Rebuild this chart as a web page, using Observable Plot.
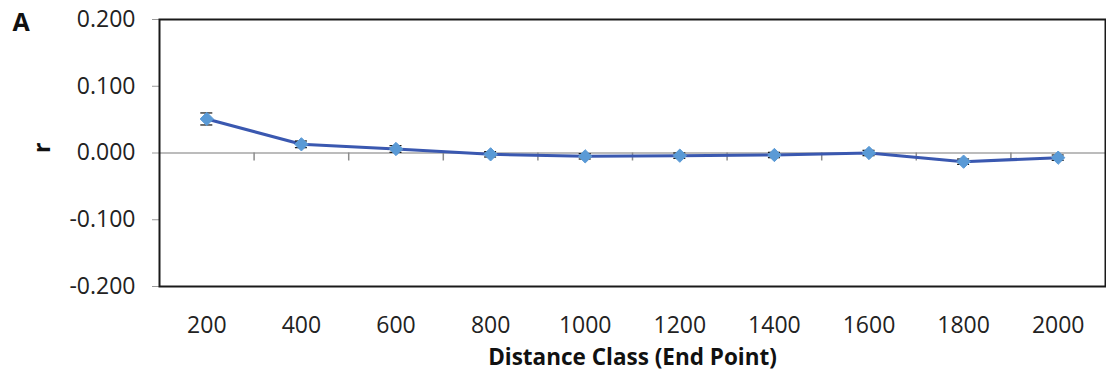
<!DOCTYPE html>
<html>
<head>
<meta charset="utf-8">
<script src="https://cdn.jsdelivr.net/npm/d3@7"></script>
<script src="https://cdn.jsdelivr.net/npm/@observablehq/plot@0.6"></script>
<style>
  html, body { margin: 0; padding: 0; background: #fff; }
</style>
</head>
<body>
<div id="chart"></div>
<script>
const categories = ["200", "400", "600", "800", "1000", "1200", "1400", "1600", "1800", "2000"];
const rValues = [0.051, 0.013, 0.006, -0.002, -0.005, -0.004, -0.003, 0.000, -0.013, -0.007];
const rErrors = [0.009, 0.005, 0.005, 0.004, 0.004, 0.004, 0.004, 0.004, 0.004, 0.004];
const yTicks = [-0.2, -0.1, 0, 0.1, 0.2];

const data = categories.map((c, i) => ({
  idx: i + 1, label: c, r: rValues[i], lo: rValues[i] - rErrors[i], hi: rValues[i] + rErrors[i]
}));
const boundaries = categories.slice(1).map((c, i) => ({ b: i + 1.5 }));
const fmt = v => (v < 0 ? "-" : "") + Math.abs(v).toFixed(3);

const chart = Plot.plot({
  width: 1106,
  height: 379,
  marginLeft: 159,
  marginRight: 1,
  marginTop: 19,
  marginBottom: 93,
  style: { fontFamily: "'Open Sans', sans-serif", fontSize: "22px", color: "#222", background: "#fff" },
  x: { domain: [0.5, categories.length + 0.5] },
  y: { domain: [-0.2, 0.2] },
  marks: [
    Plot.axisY({ ticks: yTicks, tickFormat: fmt, tickSize: 7, tickPadding: 17, stroke: "#999", fill: "#222", label: null, fontSize: 23 }),
    Plot.axisX({ ticks: data.map(d => d.idx), tickFormat: i => categories[i - 1], tickSize: 0, tickPadding: 30, label: null, fontSize: 23, fill: "#222" }),
    Plot.ruleY([0], { stroke: "#a6a6a6", strokeWidth: 1.5 }),
    Plot.ruleX(boundaries, { x: "b", y1: 0, y2: 0, insetBottom: -8, stroke: "#8c8c8c", strokeWidth: 1.5 }),
    Plot.frame({ stroke: "#1a1a1a", strokeWidth: 2 }),
    Plot.line(data, { x: "idx", y: "r", stroke: "#3a58b0", strokeWidth: 3 }),
    Plot.ruleX(data, { x: "idx", y1: "lo", y2: "hi", stroke: "#111", strokeWidth: 1.2 }),
    Plot.ruleY(data, { x1: "idx", x2: "idx", y: "hi", insetLeft: -6, insetRight: -6, stroke: "#111", strokeWidth: 1.2 }),
    Plot.ruleY(data, { x1: "idx", x2: "idx", y: "lo", insetLeft: -6, insetRight: -6, stroke: "#111", strokeWidth: 1.2 }),
    Plot.dot(data, { x: "idx", y: "r", symbol: "diamond2", r: 6, fill: "#5a9ad6", stroke: "#5a9ad6", strokeWidth: 1 }),
    Plot.text(["r"], { frameAnchor: "left", dx: -117, rotate: -90, fontWeight: "bold", fontSize: 23, fill: "#111" }),
    Plot.text(["A"], { frameAnchor: "top-left", lineAnchor: "middle", dx: -147, dy: 3, fontWeight: "bold", fontSize: 25, fill: "#111" }),
    Plot.text(["Distance Class (End Point)"], { frameAnchor: "bottom", lineAnchor: "middle", dy: 71, fontWeight: "bold", fontSize: 22.5, fill: "#111" })
  ]
});
document.getElementById("chart").appendChild(chart);
</script>
</body>
</html>
